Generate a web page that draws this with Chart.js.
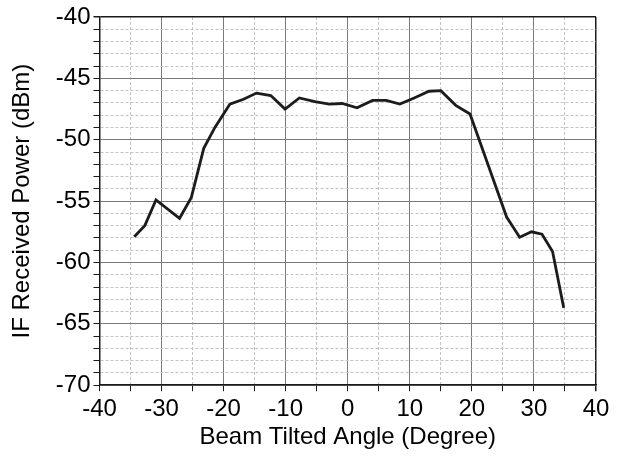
<!DOCTYPE html>
<html>
<head>
<meta charset="utf-8">
<script src="https://cdn.jsdelivr.net/npm/chart.js@4"></script>
<style>
  html, body { margin: 0; padding: 0; background: #fff; }
  #wrap { width: 619px; height: 464px; }
</style>
</head>
<body>
<div id="wrap"><canvas id="myChart" width="619" height="464"></canvas></div>
<script>
// beam angle (degree) and received power (dBm)
var angles = [-34.4, -32.7, -30.9, -27.1, -25.2, -23.2, -21.4, -19.0, -16.8, -14.7, -12.4, -10.1,
              -7.8, -5.3, -3.0, -0.9, 1.5, 4.0, 6.2, 8.4, 10.7, 13.1, 15.0, 17.4, 19.7,
              25.6, 27.7, 29.6, 31.3, 33.0, 34.8];
var power = [-57.9, -57.0, -54.9, -56.4, -54.7, -50.7, -49.0, -47.1, -46.7, -46.2, -46.4, -47.5,
             -46.6, -46.9, -47.1, -47.05, -47.4, -46.8, -46.8, -47.1, -46.6, -46.05, -46.0, -47.2, -47.9,
             -56.3, -57.95, -57.5, -57.7, -59.1, -63.7];

var xTicks = [-40, -30, -20, -10, 0, 10, 20, 30, 40];
var yTicks = [-70, -65, -60, -55, -50, -45, -40];

var points = angles.map(function (a, i) { return { x: a, y: power[i] }; });

var majorGrid = '#7a7a7a';
var minorGrid = '#c2c2c2';
var frame = '#1a1a1a';

var ctx = document.getElementById('myChart').getContext('2d');

var myChart = new Chart(ctx, {
    type: 'line',
    data: {
        datasets: [{
            label: 'IF Received Power',
            data: points,
            borderColor: '#1c1c1c',
            borderWidth: 2.8,
            pointRadius: 0,
            tension: 0,
            fill: false
        }]
    },
    options: {
        responsive: false,
        animation: false,
        layout: { padding: { left: 8, right: 23, top: 17, bottom: 12 } },
        plugins: {
            legend: { display: false },
            tooltip: { enabled: false }
        },
        scales: {
            x: {
                type: 'linear',
                min: -40,
                max: 40,
                grid: {
                    color: function (c) {
                        var v = c.tick.value;
                        if (v === 40) return frame;
                        return v % 10 === 0 ? majorGrid : minorGrid;
                    },
                    lineWidth: function (c) { return c.tick.value === 40 ? 1.5 : 1; },
                    tickLength: 6,
                    tickColor: frame,
                    tickBorderDash: []
                },
                border: {
                    color: frame,
                    width: 1.5,
                    dash: function (c) {
                        return (c.tick && c.tick.value % 10 !== 0) ? [3, 2] : [];
                    }
                },
                ticks: {
                    stepSize: 5,
                    autoSkip: false,
                    maxRotation: 0,
                    padding: 6,
                    color: '#000',
                    font: { family: 'Liberation Sans, Arial, sans-serif', size: 24, lineHeight: 1 },
                    callback: function (v) { return xTicks.indexOf(v) >= 0 ? String(v) : ''; }
                },
                title: {
                    display: true,
                    text: 'Beam Tilted Angle (Degree)',
                    color: '#000',
                    padding: { top: -4, bottom: 0 },
                    font: { family: 'Liberation Sans, Arial, sans-serif', size: 24 }
                }
            },
            y: {
                type: 'linear',
                min: -70,
                max: -40,
                grid: {
                    color: function (c) {
                        var v = c.tick.value;
                        if (v === -40) return frame;
                        return v % 5 === 0 ? majorGrid : minorGrid;
                    },
                    lineWidth: function (c) { return c.tick.value === -40 ? 1.5 : 1; },
                    tickLength: 6,
                    tickColor: frame,
                    tickBorderDash: []
                },
                border: {
                    color: frame,
                    width: 1.5,
                    dash: function (c) {
                        return (c.tick && c.tick.value % 5 !== 0) ? [3, 2] : [];
                    }
                },
                ticks: {
                    stepSize: 1,
                    autoSkip: false,
                    padding: 3,
                    color: '#000',
                    font: { family: 'Liberation Sans, Arial, sans-serif', size: 24, lineHeight: 1 },
                    callback: function (v) { return yTicks.indexOf(v) >= 0 ? String(v) : ''; }
                },
                title: {
                    display: true,
                    text: 'IF Received Power (dBm)',
                    color: '#000',
                    padding: { top: 0, bottom: 16 },
                    font: { family: 'Liberation Sans, Arial, sans-serif', size: 24 }
                }
            }
        }
    }
});
</script>
</body>
</html>
